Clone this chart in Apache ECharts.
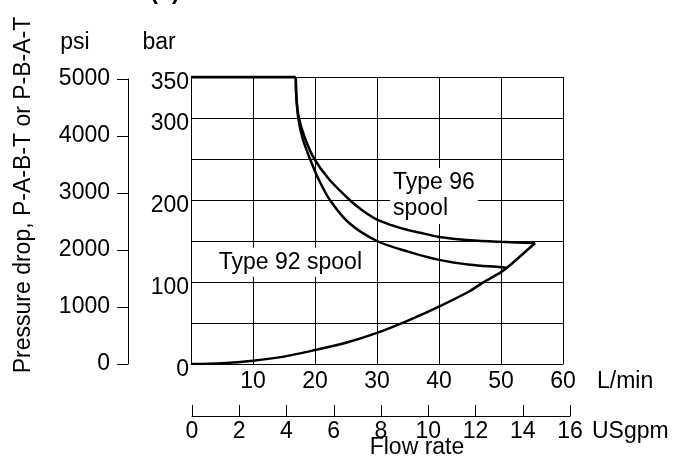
<!DOCTYPE html>
<html>
<head>
<meta charset="utf-8">
<script src="https://cdn.jsdelivr.net/npm/echarts@6/dist/echarts.min.js"></script>
<style>
html,body{margin:0;padding:0;background:#fff;}
#main{width:688px;height:472px;}
</style>
</head>
<body>
<div id="main"></div>
<script>
// tick labels
var flowTicks = [0, 10, 20, 30, 40, 50, 60];
var gpmTicks = [0, 2, 4, 6, 8, 10, 12, 14, 16];
var barLabels = [0, 100, 200, 300, 350];
var psiTicks = [0, 1000, 2000, 3000, 4000, 5000];

// relief setting (flat top)
var reliefFlow = [0, 16.9];
var reliefBar = [350, 350];

// Type 96 spool
var flow96 = [16.9, 17.0, 17.4, 18.4, 19.9, 22.3, 25.6, 27.5, 30, 33.7, 37, 40, 45, 50, 55.5];
var bar96 = [350, 325, 300, 275, 250, 225, 200, 188, 176, 166, 160, 155, 151, 149, 147.5];

// Type 92 spool
var flow92 = [16.9, 17.0, 17.3, 18.0, 19.2, 20.6, 22.4, 25.5, 30, 35, 40, 45, 50, 51];
var bar92 = [350, 325, 300, 275, 250, 225, 200, 172, 150, 137, 127, 121, 118, 117];

// pressure drop curve
var flowDrop = [0, 5, 10, 15, 20, 25, 30, 35, 40, 45, 47, 50, 52, 55.5];
var barDrop = [0, 1, 4, 9, 17, 26, 38, 53, 70, 89, 99, 112, 124, 147.5];

var FONT = 'Liberation Sans, Arial, sans-serif';
var FS = 23;

function zip(xs, ys){
    var out = [];
    for(var i=0;i<xs.length;i++){
        out.push([xs[i], ys[i]]);
    }
    return out;
}

function lineSeries(name, xs, ys, w){
    return {
        name: name,
        type: 'line',
        xAxisIndex: 0,
        yAxisIndex: 0,
        data: zip(xs, ys),
        smooth: 0.3,
        symbol: 'none',
        lineStyle: {color: '#000', width: w},
        z: 5
    };
}

var myChart = echarts.init(document.getElementById('main'));
var blk = {color: '#000', width: 1};

var option = {
    animation: false,
    backgroundColor: '#fff',
    textStyle: {fontFamily: FONT},
    grid: [
        {left: 191, top: 77, width: 372, height: 287, outerBoundsMode: 'none'},
        {left: 128, top: 79, width: 300, height: 285, outerBoundsMode: 'none'},
        {left: 192, top: 380, width: 378, height: 36, outerBoundsMode: 'none'}
    ],
    xAxis: [
        {
            type: 'value', gridIndex: 0, min: flowTicks[0], max: flowTicks[flowTicks.length-1], interval: 10,
            axisLine: {show: true, lineStyle: blk},
            axisTick: {show: false},
            splitLine: {show: true, lineStyle: blk},
            axisLabel: {fontSize: FS, color: '#000', fontFamily: FONT, margin: 6,
                formatter: function(v){ return v === 0 ? '' : String(v); }}
        },
        {type: 'value', gridIndex: 1, min: 0, max: 1, show: false},
        {
            type: 'value', gridIndex: 2, min: gpmTicks[0], max: gpmTicks[gpmTicks.length-1], interval: 2,
            axisLine: {show: true, lineStyle: blk},
            axisTick: {show: true, inside: true, length: 11, lineStyle: blk},
            splitLine: {show: false},
            axisLabel: {fontSize: FS, color: '#000', fontFamily: FONT, margin: 4,
                formatter: function(v){ return String(v); }}
        }
    ],
    yAxis: [
        {
            type: 'value', gridIndex: 0, min: 0, max: 350, interval: 50,
            axisLine: {show: true, lineStyle: blk},
            axisTick: {show: false},
            splitLine: {show: true, lineStyle: blk},
            axisLabel: {color: '#000', margin: 2,
                rich: {b: {fontSize: FS, color: '#000', fontFamily: FONT, padding: [12, 0, 0, 0]}},
                formatter: function(v){ return barLabels.indexOf(v) >= 0 ? '{b|' + v + '}' : ''; }}
        },
        {
            type: 'value', gridIndex: 1, min: psiTicks[0], max: psiTicks[psiTicks.length-1], interval: 1000,
            axisLine: {show: true, lineStyle: blk},
            axisTick: {show: true, length: 11, lineStyle: blk},
            splitLine: {show: false},
            axisLabel: {fontSize: FS, color: '#000', fontFamily: FONT, margin: 18,
                formatter: function(v){ return String(v); }}
        },
        {type: 'value', gridIndex: 2, min: 0, max: 1, show: false}
    ],
    series: [
        lineSeries('relief', reliefFlow, reliefBar, 3),
        lineSeries('Type 96 spool', flow96, bar96, 2.5),
        lineSeries('Type 92 spool', flow92, bar92, 2.5),
        lineSeries('Pressure drop', flowDrop, barDrop, 2.5)
    ]
};
myChart.setOption(option);

// annotation positions in data coordinates
var p96 = myChart.convertToPixel({gridIndex: 0}, [32.1, 205]);
var p92 = myChart.convertToPixel({gridIndex: 0}, [4.0, 124]);

function txt(x, y, s, align, extra){
    var st = {text: s, x: x, y: y, fill: '#000', fontSize: FS, fontFamily: FONT,
              align: align, verticalAlign: 'middle'};
    for(var k in extra){ st[k] = extra[k]; }
    return {type: 'text', z: 100, style: st};
}

var yTitle = txt(0, 0, 'Pressure drop, P-A-B-T or P-B-A-T', 'center', {});
yTitle.x = 24; yTitle.y = 195; yTitle.rotation = Math.PI / 2;

myChart.setOption({
    graphic: [
        {type: 'text', z: 100, x: 165, y: 4, style: {text: '(b)', fill: '#000', fontSize: FS, fontWeight: 'bold', fontFamily: FONT, align: 'center', verticalAlign: 'bottom'}},
        txt(75, 43, 'psi', 'center', {}),
        txt(159, 43, 'bar', 'center', {}),
        txt(597, 382, 'L/min', 'left', {}),
        txt(592, 432, 'USgpm', 'left', {}),
        txt(417, 448, 'Flow rate', 'center', {}),
        yTitle,
        txt(p96[0], p96[1], 'Type 96\nspool', 'left', {backgroundColor: '#fff', padding: [2, 3], lineHeight: 26}),
        txt(p92[0], p92[1], 'Type 92 spool', 'left', {backgroundColor: '#fff', padding: [3, 3]})
    ]
});
</script>
</body>
</html>
